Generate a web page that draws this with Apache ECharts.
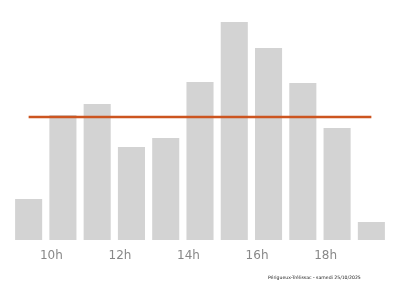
<!DOCTYPE html>
<html>
<head>
<meta charset="utf-8">
<script src="https://cdn.jsdelivr.net/npm/echarts@6/dist/echarts.min.js"></script>
<style>html,body{margin:0;padding:0;background:#fff}#c{width:400px;height:286px}</style>
</head>
<body>
<div id="c"></div>
<script>
const hours = ['9h','10h','11h','12h','13h','14h','15h','16h','17h','18h','19h'];
const shownLabels = ['10h','12h','14h','16h','18h'];
const affluence = [41, 125, 136, 93, 102, 158, 218, 192, 157, 112, 18];
const averageValue = affluence.reduce((a, b) => a + b, 0) / affluence.length;
const averageLine = affluence.map(() => averageValue);
const footerText = 'Périgueux-Trélissac - samedi 25/10/2025';

const chart = echarts.init(document.getElementById('c'), null, {renderer: 'canvas'});
chart.setOption({
  animation: false,
  backgroundColor: '#ffffff',
  grid: {left: 11.5, right: 11.5, top: 22, bottom: 46, containLabel: false},
  xAxis: {
    type: 'category',
    data: hours,
    boundaryGap: true,
    axisLine: {show: false},
    axisTick: {show: false},
    axisLabel: {
      interval: (i, v) => shownLabels.indexOf(v) >= 0,
      color: '#888888',
      fontSize: 12,
      fontFamily: 'DejaVu Sans',
      margin: 10,
      padding: [0, 23, 0, 0]
    }
  },
  yAxis: {
    type: 'value',
    min: 0,
    max: 218,
    show: false,
    splitLine: {show: false}
  },
  series: [
    {
      type: 'bar',
      data: affluence,
      barCategoryGap: '21%',
      itemStyle: {color: '#d3d3d3'},
      silent: true
    },
    {
      type: 'line',
      data: averageLine,
      symbol: 'none',
      lineStyle: {color: '#cc5520', width: 2.5},
      silent: true,
      z: 5
    }
  ],
  graphic: [{
    type: 'text',
    left: 268,
    top: 275.5,
    style: {text: footerText, fontSize: 4.6, fill: '#222', fontFamily: 'DejaVu Sans'}
  }]
});
</script>
</body>
</html>
